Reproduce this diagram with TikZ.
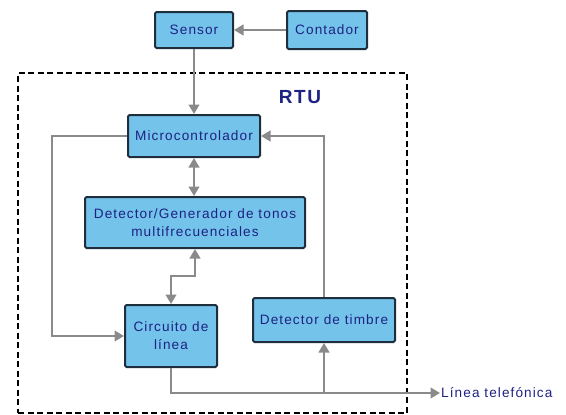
\documentclass[tikz,border=0pt]{standalone}
\usepackage{fontspec}
\setmainfont{Liberation Sans}[LetterSpace=8]
\usetikzlibrary{arrows.meta}
\definecolor{boxfill}{HTML}{74C3EA}
\definecolor{boxdraw}{HTML}{1F2E3D}
\definecolor{txtcol}{HTML}{1E2282}
\definecolor{wirecol}{HTML}{8A8A8A}
\begin{document}
\begin{tikzpicture}[x=1pt,y=-1pt,
  blk/.style={draw=boxdraw, fill=boxfill, line width=2pt, rounded corners=1.5pt,
    text=txtcol, font=\fontsize{13.6}{18}\selectfont, inner sep=0pt, align=center},
  tip/.tip={Triangle[length=9.5pt,width=10.5pt]},
  wire/.style={draw=wirecol, line width=2.8pt, -tip},
  wire2/.style={draw=wirecol, line width=2.8pt, tip-tip},
  frame/.style={draw=black, line width=1.8pt, dash pattern=on 6pt off 3.5pt}]
\useasboundingbox (0,0) rectangle (566,415);
\node[frame, minimum width=389pt, minimum height=340pt, inner sep=0pt] (rtubox) at (212.5,243) {};
\node[text=txtcol, font=\fontsize{19}{22}\selectfont\bfseries] (rtu) at (300,97) {RTU};
\node[blk, minimum width=78pt, minimum height=36pt] (sensor) at (194,30) {Sensor};
\node[blk, minimum width=80pt, minimum height=38pt] (contador) at (327,30) {Contador};
\node[blk, minimum width=132pt, minimum height=42pt] (micro) at (194,136) {Microcontrolador};
\node[blk, minimum width=220pt, minimum height=51pt] (detgen) at (195,222.5) {Detector/Generador de tonos\\multifrecuenciales};
\node[blk, minimum width=92pt, minimum height=62pt] (circ) at (171,336) {Circuito de\\línea};
\node[blk, minimum width=142pt, minimum height=44pt] (timbre) at (324,320) {Detector de timbre};
\node[text=txtcol, font=\fontsize{13.6}{16}\selectfont, anchor=west, inner sep=1pt] (linea) at (440,393) {Línea telefónica};
\draw[wire] (contador.west) -- (sensor.east);
\draw[wire] (sensor.south) -- (sensor.south |- micro.north);
\draw[wire2] (micro.south) -- (micro.south |- detgen.north);
\draw[wire2] (detgen.south) -- ++(0,27) -| (circ.north);
\draw[wire] (micro.west) -- ++(-75,0) |- (circ.west);
\draw[wire] (timbre.north) |- (micro.east);
\draw[wire] (circ.south) |- (linea.west);
\coordinate (jn) at (timbre.south |- linea.west);
\draw[wire] (jn) -- (timbre.south);
\end{tikzpicture}
\end{document}
